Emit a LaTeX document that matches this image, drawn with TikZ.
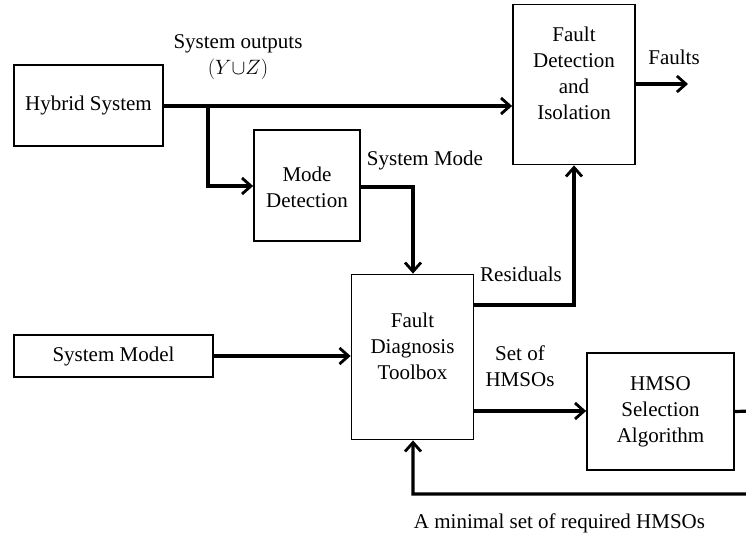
\documentclass[tikz,border=0pt]{standalone}
\usepackage{fontspec}
\setmainfont{Liberation Serif}
\usetikzlibrary{arrows.meta}
\begin{document}
\begin{tikzpicture}[x=1pt,y=-1pt,
  every node/.style={font=\fontsize{21}{26}\selectfont, align=center, inner sep=0pt},
  blk/.style={draw, line width=1.8pt, minimum width=#1},
  flow/.style={line width=3.2pt, -{Straight Barb[length=9pt,width=16pt,line width=2.8pt]}}]
\useasboundingbox (0,0) rectangle (746,541);
\clip (0,0) rectangle (746,541);

% blocks (outline boxes; multi-line captions set separately where they sit off-centre)
\node[blk=149, minimum height=81] (hyb) at (88.5,105.5) {Hybrid System};
\node[blk=106, minimum height=111] (mode) at (307,185.5) {};
\node (modet) at (307,187.5) {Mode\\Detection};
\node[blk=122, minimum height=160] (fdi) at (574,84.5) {};
\node (fdit) at (574,73.5) {Fault\\Detection\\and\\Isolation};
\node[blk=122, minimum height=165] (fdt) at (412.5,357) {};
\node (fdtt) at (412.5,346.5) {Fault\\Diagnosis\\Toolbox};
\node[blk=199, minimum height=42] (smod) at (113.5,356) {System Model};
\node[blk=147, minimum height=117] (hmso) at (660.5,411.5) {HMSO\\Selection\\Algorithm};

% points of the wiring
\coordinate (br) at (208,106);
\coordinate (mdr) at (413,187);
\coordinate (resc) at (574,305);
\coordinate (far) at (752,411);
\coordinate (farb) at (752,494);
\coordinate (fdtb) at (413,494);
\coordinate (fout) at (688,84);

% connectors
\draw[flow] (hyb.east |- br) -- (fdi.west |- br);
\draw[flow] (br) |- (mode.west |- 0,186);
\draw[flow] (mode.east |- mdr) -| (fdt.north -| mdr);
\draw[flow] (fdt.east |- resc) -| (fdi.south -| resc);
\draw[flow] (fdi.east |- fout) -- (fout);
\draw[flow] (smod.east) -- (fdt.west |- smod.east);
\draw[flow] (fdt.east |- 0,411) -- (hmso.west |- 0,411);
\draw[flow] (hmso.east) -- (far) -- (farb) -- (fdtb) -- (fdt.south -| fdtb);

% labels
\node (lout) at (238,57) {System outputs\\$(Y{\cup}Z)$};
\node (lfaults) at (674,57) {Faults};
\node (lmode) at (425,160) {System Mode};
\node (lres) at (521,274) {Residuals};
\node (lset) at (520,366) {Set of\\HMSOs};
\node (lmin) at (559.5,523) {A minimal set of required HMSOs};
\end{tikzpicture}
\end{document}
